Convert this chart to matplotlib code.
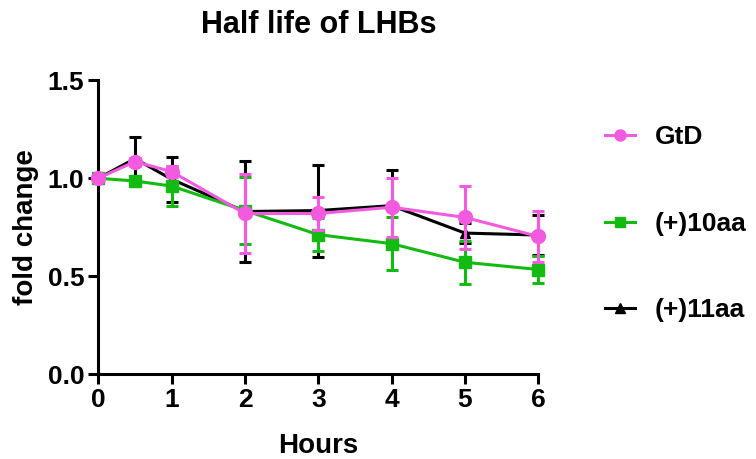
import matplotlib
matplotlib.use("Agg")
import matplotlib.pyplot as plt
from matplotlib.lines import Line2D

plt.rcParams['font.family'] = ['Liberation Sans', 'DejaVu Sans']
plt.rcParams['font.weight'] = 'bold'

hours = [0, 0.5, 1, 2, 3, 4, 5, 6]

gtd_mean = [1.0, 1.085, 1.034, 0.82, 0.82, 0.852, 0.80, 0.703]
gtd_err = [0.0, 0.02, 0.03, 0.20, 0.085, 0.15, 0.16, 0.13]

aa10_mean = [1.0, 0.986, 0.96, 0.835, 0.712, 0.666, 0.571, 0.534]
aa10_err = [0.0, 0.02, 0.10, 0.17, 0.085, 0.135, 0.11, 0.07]

aa11_mean = [1.0, 1.10, 0.995, 0.83, 0.835, 0.86, 0.72, 0.71]
aa11_err = [0.0, 0.11, 0.115, 0.26, 0.235, 0.18, 0.05, 0.10]

names = ['GtD', '(+)10aa', '(+)11aa']
pink = '#F25AE0'
green = '#12BA12'

fig = plt.figure(figsize=(7.56, 4.59), dpi=100)
ax = fig.add_axes([0.130, 0.185, 0.582, 0.640])

lw = 2.2
ax.errorbar(hours, aa11_mean, yerr=aa11_err, color='black', marker='^', markersize=7,
            linewidth=lw, elinewidth=lw, capsize=4, capthick=lw, zorder=2, clip_on=False)
ax.errorbar(hours, aa10_mean, yerr=aa10_err, color=green, marker='s', markersize=9,
            linewidth=lw, elinewidth=lw, capsize=4, capthick=lw, zorder=3, clip_on=False)
ax.errorbar(hours, gtd_mean, yerr=gtd_err, color=pink, marker='o', markersize=10,
            linewidth=lw, elinewidth=lw, capsize=4, capthick=lw, zorder=4, clip_on=False)

ax.set_xlim(0, 6)
ax.set_ylim(0, 1.5)
ax.set_xticks([0, 1, 2, 3, 4, 5, 6])
ax.set_yticks([0.0, 0.5, 1.0, 1.5])
ax.set_yticklabels(['0.0', '0.5', '1.0', '1.5'])
for s in ['top', 'right']:
    ax.spines[s].set_visible(False)
for s in ['left', 'bottom']:
    ax.spines[s].set_linewidth(lw)
ax.tick_params(width=lw, length=7, labelsize=19, pad=3)

ax.set_xlabel('Hours', fontsize=20, fontweight='bold', labelpad=15)
ax.set_ylabel('fold change', fontsize=20, fontweight='bold', labelpad=6)
ax.set_title('Half life of LHBs', fontsize=22, fontweight='bold', pad=34)

handles = [
    Line2D([], [], color=pink, marker='o', markersize=8, linewidth=lw),
    Line2D([], [], color=green, marker='s', markersize=7, linewidth=lw),
    Line2D([], [], color='black', marker='^', markersize=7, linewidth=lw),
]
fig.legend(handles, names, loc='upper left', bbox_to_anchor=(0.786, 0.75),
           frameon=False, fontsize=19, handlelength=1.15, labelspacing=2.37,
           handletextpad=0.75, borderaxespad=0)

fig.savefig('out.png', dpi=100)
